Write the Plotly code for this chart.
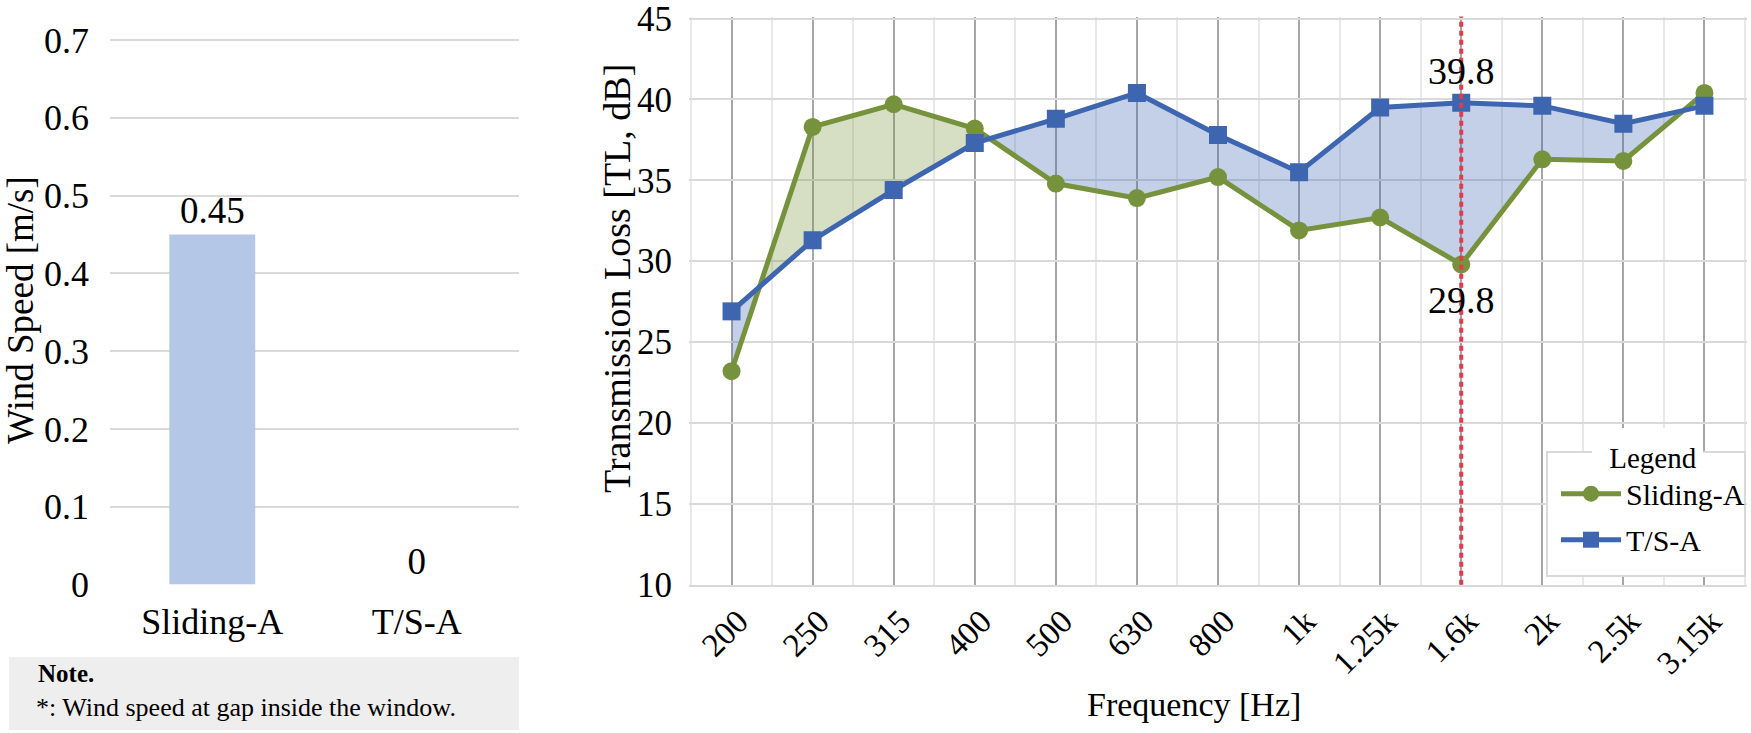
import numpy as np
import plotly.graph_objects as go

W, H = 1751, 733

# ---------------- data ----------------
wind_categories = ["Sliding-A", "T/S-A"]
wind_speed = [0.45, 0]

freq_labels = ["200", "250", "315", "400", "500", "630", "800", "1k",
               "1.25k", "1.6k", "2k", "2.5k", "3.15k"]
sliding_a = [23.2, 38.3, 39.7, 38.2, 34.8, 33.9, 35.2, 31.9, 32.7, 29.8, 36.3, 36.2, 40.4]
ts_a = [26.9, 31.3, 34.4, 37.3, 38.8, 40.4, 37.8, 35.5, 39.5, 39.8, 39.6, 38.5, 39.6]

highlight_freq = "1.6k"

# ---------------- style ----------------
FONT = "Liberation Serif, Times New Roman, serif"
GREEN = "#76923c"
BLUE = "#3d65b0"
GREEN_FILL = "rgba(118,146,60,0.30)"
BLUE_FILL = "rgba(61,101,176,0.30)"
BAR = "#b4c7e7"
GRID = "#d9d9d9"
MAJOR_V = "#a6a6a6"
MINOR_V = "#e8e8e8"
RED = "#e33b4c"


def px(x):
    return x / W


def py(y):
    return 1 - y / H


# ---------------- fill regions between the two curves ----------------
def fill_regions(a, b):
    xs = np.arange(len(a), dtype=float)
    a = np.asarray(a, float)
    b = np.asarray(b, float)
    pts = []  # (x, ya, yb, is_cross)
    for i in range(len(a)):
        pts.append((xs[i], a[i], b[i], False))
        if i < len(a) - 1:
            d0 = a[i] - b[i]
            d1 = a[i + 1] - b[i + 1]
            if d0 * d1 < 0:
                t = d0 / (d0 - d1)
                xc = xs[i] + t
                yc = a[i] + t * (a[i + 1] - a[i])
                pts.append((xc, yc, yc, True))
    regions = []
    cur = []
    for p in pts:
        cur.append(p)
        if p[3]:
            regions.append(cur)
            cur = [p]
    if len(cur) > 1:
        regions.append(cur)
    out = []
    for reg in regions:
        inner = [p for p in reg if not p[3]]
        if not inner:
            continue
        sign = inner[0][1] - inner[0][2]
        px_ = [p[0] for p in reg] + [p[0] for p in reg[::-1]]
        py_ = [p[1] for p in reg] + [p[2] for p in reg[::-1]]
        out.append((px_, py_, sign > 0))
    return out


fig = go.Figure()

# ---------------- left: bar chart ----------------
fig.add_trace(go.Bar(
    x=wind_categories, y=wind_speed,
    marker=dict(color=BAR, line=dict(width=0)),
    width=0.42,
    text=[f"{v:g}" for v in wind_speed],
    textposition="outside",
    textfont=dict(size=37, color="black", family=FONT),
    cliponaxis=False,
    showlegend=False,
    xaxis="x", yaxis="y",
))

# ---------------- right: transmission loss ----------------
for fx, fy, green_above in fill_regions(sliding_a, ts_a):
    fig.add_trace(go.Scatter(
        x=fx, y=fy, mode="lines", fill="toself",
        fillcolor=GREEN_FILL if green_above else BLUE_FILL,
        line=dict(width=0), hoverinfo="skip", showlegend=False,
        xaxis="x2", yaxis="y2",
    ))

xidx = list(range(len(freq_labels)))
fig.add_trace(go.Scatter(
    x=xidx, y=sliding_a, name="Sliding-A", mode="lines+markers",
    line=dict(color=GREEN, width=5),
    marker=dict(symbol="circle", size=18, color=GREEN),
    legendgroup="a",
    xaxis="x2", yaxis="y2",
))
fig.add_trace(go.Scatter(
    x=xidx, y=ts_a, name="T/S-A", mode="lines+markers",
    line=dict(color=BLUE, width=5),
    marker=dict(symbol="square", size=18, color=BLUE),
    legendgroup="b",
    xaxis="x2", yaxis="y2",
))

hi = freq_labels.index(highlight_freq)

shapes = [
    # note box
    dict(type="rect", xref="paper", yref="paper",
         x0=px(9), x1=px(519), y0=py(730), y1=py(657),
         fillcolor="#eeeeee", line=dict(width=0), layer="below"),
    # highlight line
    dict(type="line", xref="x2", yref="y2 domain", x0=hi, x1=hi, y0=0, y1=1,
         line=dict(color=RED, width=4, dash="5px,4px"), layer="above"),
    # legend box
    dict(type="rect", xref="paper", yref="paper",
         x0=px(1547), x1=px(1745), y0=py(576), y1=py(452),
         fillcolor="white", line=dict(color=GRID, width=2), layer="above"),
    # gap in the legend border behind the legend title
    dict(type="rect", xref="paper", yref="paper",
         x0=px(1592), x1=px(1703), y0=py(455), y1=py(428),
         fillcolor="white", line=dict(width=0), layer="above"),
]

annotations = [
    dict(text="Wind Speed [m/s]", x=px(20), y=py(310), xref="paper", yref="paper",
         xanchor="center", yanchor="middle",
         textangle=-90, showarrow=False, font=dict(size=37, family=FONT, color="black")),
    dict(text="Transmission Loss [TL, dB]", x=px(617), y=py(279), xref="paper", yref="paper",
         xanchor="center", yanchor="middle",
         textangle=-90, showarrow=False, font=dict(size=38, family=FONT, color="black")),
    dict(text="Frequency [Hz]", x=px(1194), y=py(704), xref="paper", yref="paper",
         xanchor="center", yanchor="middle",
         showarrow=False, font=dict(size=34, family=FONT, color="black")),
    dict(text="<b>Note.</b>", x=px(36), y=py(673), xref="paper", yref="paper",
         xanchor="left", yanchor="middle", showarrow=False,
         font=dict(size=25, family=FONT, color="black")),
    dict(text="*: Wind speed at gap inside the window.", x=px(34), y=py(707),
         xref="paper", yref="paper", xanchor="left", yanchor="middle", showarrow=False,
         font=dict(size=26, family=FONT, color="black")),
    dict(text=f"{ts_a[hi]:.1f}", x=hi, y=ts_a[hi], xref="x2", yref="y2",
         yshift=32, showarrow=False, font=dict(size=38, family=FONT, color="black")),
    dict(text=f"{sliding_a[hi]:.1f}", x=hi, y=sliding_a[hi], xref="x2", yref="y2",
         yshift=-36, showarrow=False, font=dict(size=38, family=FONT, color="black")),
]

tickfont = dict(size=36, family=FONT, color="black")
rtickfont = dict(size=35, family=FONT, color="black")
xtickfont = dict(size=33, family=FONT, color="black")

# pixel scales used to pad the ranges by ~2px so edge gridlines are drawn
L_TOP, L_BOT = 40.0, 584.5
L_PAD = 2.0 * 0.7 / (L_BOT - L_TOP)
R_TOP, R_BOT = 18.5, 584.8
R_PAD = 2.0 * 35 / (R_BOT - R_TOP)
R_LEFT, R_RIGHT = 691.0, 1745.0
X_PAD = 2.0 * 13 / (R_RIGHT - R_LEFT)

fig.update_layout(
    width=W, height=H,
    margin=dict(l=0, r=0, t=0, b=0),
    paper_bgcolor="white", plot_bgcolor="white",
    font=dict(family=FONT, color="black"),
    bargap=0.5,
    xaxis=dict(
        domain=[px(110), px(519)], anchor="y", type="category",
        showgrid=False, showline=False, zeroline=False, ticks="",
        tickfont=tickfont, ticklabelstandoff=12, automargin=False,
    ),
    yaxis=dict(
        domain=[py(L_BOT), py(L_TOP - 2)], anchor="x", range=[0, 0.7 + L_PAD],
        dtick=0.1, tick0=0,
        showgrid=True, gridcolor=GRID, gridwidth=1.5, zeroline=False, showline=False,
        ticks="", tickfont=tickfont, ticklabelstandoff=20, automargin=False,
        ticklabeloverflow="allow",
    ),
    xaxis2=dict(
        domain=[px(R_LEFT - 2), px(min(R_RIGHT + 2, W))], anchor="y2",
        range=[-0.5 - X_PAD, len(freq_labels) - 0.5 + X_PAD],
        tickmode="array", tickvals=xidx, ticktext=freq_labels, tickangle=-45,
        showgrid=True, gridcolor=MAJOR_V, gridwidth=1.5,
        minor=dict(tickmode="array", tickvals=[i - 0.5 for i in range(len(freq_labels) + 1)],
                   showgrid=True, gridcolor=MINOR_V, gridwidth=1.5, ticks=""),
        showline=True, linecolor=GRID, linewidth=2, zeroline=False, ticks="",
        tickfont=xtickfont, ticklabelstandoff=2, ticklabelshift=7, automargin=False,
    ),
    yaxis2=dict(
        domain=[py(R_BOT), py(R_TOP - 2)], anchor="x2", range=[10, 45 + R_PAD],
        dtick=5, tick0=10,
        showgrid=True, gridcolor=GRID, gridwidth=1.5, zeroline=False, showline=False,
        ticks="", tickfont=rtickfont, ticklabelstandoff=16, automargin=False,
        ticklabeloverflow="allow",
    ),
    legend=dict(
        x=px(1556), y=py(430), xanchor="left", yanchor="top",
        bgcolor="rgba(0,0,0,0)", borderwidth=0,
        title=dict(text="Legend", side="top center", font=dict(size=29, family=FONT, color="black")),
        font=dict(size=30, family=FONT, color="black"),
        tracegroupgap=4,
        itemwidth=60,
    ),
    shapes=shapes,
    annotations=annotations,
)

fig.write_html("out.html", config={"displayModeBar": False},
               post_script="document.body.style.margin='0';")
